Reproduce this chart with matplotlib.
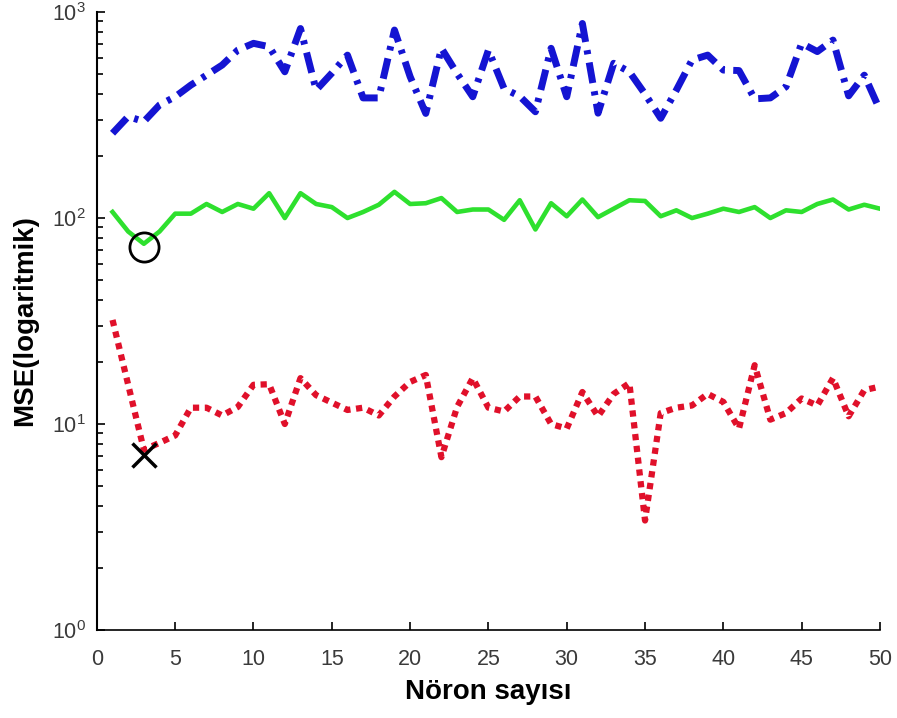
import numpy as np
import matplotlib.pyplot as plt

plt.rcParams['font.family'] = ['Liberation Sans', 'DejaVu Sans']
plt.rcParams['mathtext.fontset'] = 'custom'
plt.rcParams['mathtext.rm'] = 'Liberation Sans'

# neuron counts 1..50
neurons = list(range(1, 51))

# MSE per neuron count (three runs)
mse_blue = [258, 311, 294, 354, 388, 442, 494, 553, 654, 705,
            679, 513, 832, 418, 505, 618, 383, 383, 818, 486,
            322, 667, 503, 388, 654, 425, 390, 328, 667, 388,
            880, 323, 564, 513, 400, 305, 418, 585, 618, 523,
            520, 379, 383, 434, 705, 643, 731, 392, 494, 334]
mse_green = [107, 86, 75, 86, 105, 105, 117, 107, 117, 111,
             132, 100, 132, 117, 113, 100, 107, 116, 134, 117,
             118, 125, 107, 110, 110, 98, 122, 88, 118, 102,
             123, 101, 111, 122, 121, 102, 109, 100, 105, 111,
             107, 113, 100, 109, 107, 117, 123, 110, 116, 111]
mse_red = [32, 15.5, 7.5, 8.1, 8.8, 12, 12, 11, 12.1, 15.5,
           15.6, 10, 16.7, 13.8, 12.7, 11.7, 12, 11, 13.6, 16,
           17.3, 6.9, 12.1, 16.7, 12, 11.5, 13.6, 13.6, 10, 9.5,
           14.3, 10.9, 14, 15.8, 3.4, 11.3, 12, 12.3, 14, 12.8,
           9.5, 19.3, 10.5, 11.3, 13.3, 12.3, 16.7, 10.9, 14.6, 15.2]

# best points
best_circle = (3, 72)
best_cross = (3, 7.1)

fig = plt.figure(figsize=(8.97, 7.18), dpi=100)
ax = fig.add_axes([0.108, 0.1226, 0.873, 0.8606])

ax.plot(neurons, mse_blue, color='#1414d2', linewidth=5, linestyle=(0, (3, 1.2, 0.6, 1.2)))
ax.plot(neurons, mse_green, color='#2ee02e', linewidth=3.3)
ax.plot(neurons, mse_red, color='#e0102a', linewidth=4.5, linestyle=(0, (1.0, 0.9)))

ax.plot(*best_circle, 'o', markersize=21, markerfacecolor='none',
        markeredgecolor='black', markeredgewidth=2)
ax.plot(*best_cross, 'x', markersize=17, color='black', markeredgewidth=2.5)

ax.set_yscale('log')
ax.set_xlim(0, 50)
ax.set_ylim(1, 1000)
ax.set_xticks(range(0, 51, 5))

ax.spines['top'].set_visible(False)
ax.spines['right'].set_visible(False)
ax.spines['left'].set_linewidth(1.5)
ax.spines['bottom'].set_linewidth(1.2)
ax.tick_params(which='both', direction='in', labelsize=15.5, labelcolor='#3a3a3a')
ax.tick_params(which='major', length=6, width=1.2)
ax.tick_params(which='minor', length=4, width=1.2)
ax.tick_params(axis='x', pad=14)
ax.tick_params(axis='y', pad=8)

ax.set_xlabel('Nöron sayısı', fontsize=20, fontweight='bold', labelpad=6)
ax.set_ylabel('MSE(logaritmik)', fontsize=20, fontweight='bold', labelpad=10)

fig.savefig('out.png', dpi=100)
